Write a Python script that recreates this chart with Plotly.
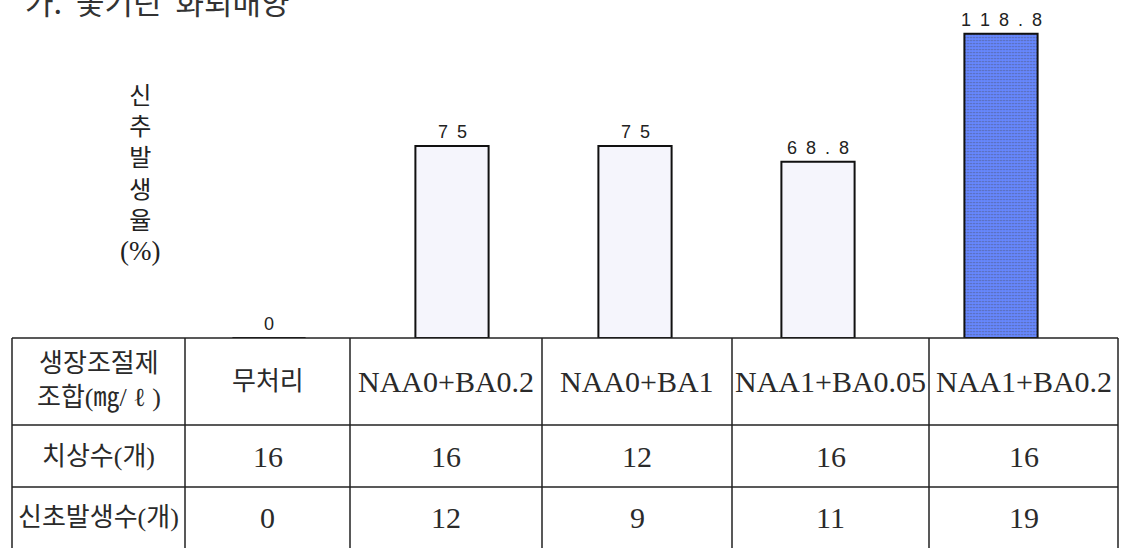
import plotly.graph_objects as go

W, H = 1121, 548

# ---- data ----
treatments = ["무처리", "NAA0+BA0.2", "NAA0+BA1", "NAA1+BA0.05", "NAA1+BA0.2"]
shoot_rate = [0, 75, 75, 68.8, 118.8]          # 신초발생율 (%)
explants = [16, 16, 12, 16, 16]                 # 치상수(개)
shoots = [0, 12, 9, 11, 19]                     # 신초발생수(개)
row_labels = ["생장조절제<br>조합(㎎/ ℓ )", "치상수(개)", "신초발생수(개)"]
y_title_chars = ["신", "추", "발", "생", "율", "<span style='font-size:27px'>(%)</span>"]
title_text = "가.  꽃기린  화뢰배양"

# ---- styles ----
bar_fill = ["#f5f5fc", "#f5f5fc", "#f5f5fc", "#f5f5fc", "#6687ff"]
bar_shape = ["", "", "", "", "."]
SERIF = "Liberation Serif, Noto Sans CJK KR"
SANS = "Liberation Sans, Noto Sans CJK KR"


def px(x):
    return x / W


def py(y):
    return 1 - y / H


def spaced(v):
    return "\u2002".join(f"{v:g}")


fig = go.Figure()
fig.add_trace(go.Bar(
    x=treatments, y=shoot_rate, width=0.4,
    marker=dict(color=bar_fill,
                line=dict(color="#111111", width=2),
                pattern=dict(shape=bar_shape, fgcolor="#5878fc", bgcolor="#6889ff",
                             size=3, solidity=0.25)),
    hoverinfo="skip", showlegend=False,
))

annotations = []
# value labels above bars
for t, v in zip(treatments, shoot_rate):
    annotations.append(dict(x=t, y=v, xref="x", yref="y", text=spaced(v),
                            showarrow=False, yshift=14, yanchor="middle",
                            font=dict(family=SANS, size=18, color="#222222")))

# title (partly cut at the top, as in the source)
annotations.append(dict(x=px(23), y=py(1), xref="paper", yref="paper",
                        xanchor="left", yanchor="middle", text=title_text,
                        showarrow=False,
                        font=dict(family="Noto Sans CJK KR", size=31, color="#333333")))

# vertical y-axis title
annotations.append(dict(x=px(140), y=py(174), xref="paper", yref="paper",
                        xanchor="center", yanchor="middle",
                        text="<br>".join(y_title_chars), showarrow=False,
                        font=dict(family=SERIF, size=24, color="#222222")))

# ---- table ----
col_x = [12, 185, 350, 542, 732, 929, 1118]
row_y = [338, 425, 487, 560]
row_centers = [381, 456, 517]
shapes = []
for y in row_y[:3]:
    shapes.append(dict(type="line", xref="paper", yref="paper",
                       x0=px(col_x[0]), x1=px(col_x[-1]), y0=py(y), y1=py(y),
                       line=dict(color="#222222", width=1.5)))
for x in col_x:
    shapes.append(dict(type="line", xref="paper", yref="paper",
                       x0=px(x), x1=px(x), y0=py(row_y[0]), y1=py(row_y[-1]),
                       line=dict(color="#222222", width=1.5)))

col_centers = [(col_x[i] + col_x[i + 1]) / 2 for i in range(len(col_x) - 1)]
rows = [treatments, explants, shoots]
for r, (lab, vals) in enumerate(zip(row_labels, rows)):
    annotations.append(dict(x=px(col_centers[0]), y=py(row_centers[r]),
                            xref="paper", yref="paper", text=lab,
                            showarrow=False, xanchor="center", yanchor="middle",
                            font=dict(family=SERIF, size=26, color="#2a2a2a")))
    for c, v in enumerate(vals):
        size = 26 if (isinstance(v, str) and not v.isascii()) else 30
        annotations.append(dict(x=px(col_centers[c + 1]), y=py(row_centers[r]),
                                xref="paper", yref="paper", text=str(v),
                                showarrow=False, xanchor="center", yanchor="middle",
                                font=dict(family=SERIF, size=size, color="#2a2a2a")))

fig.update_layout(
    width=W, height=H, autosize=False,
    margin=dict(l=0, r=0, t=0, b=0),
    paper_bgcolor="white", plot_bgcolor="white",
    xaxis=dict(domain=[px(177.5), px(1092.5)], range=[-0.5, 4.5], visible=False,
               type="category"),
    yaxis=dict(domain=[py(338), 1], range=[0, 338 / 2.56], visible=False),
    annotations=annotations, shapes=shapes,
    bargap=0.6,
)

fig.write_html("out.html", config={"displayModeBar": False},
               post_script="document.body.style.margin='0';document.body.style.overflow='hidden';")
